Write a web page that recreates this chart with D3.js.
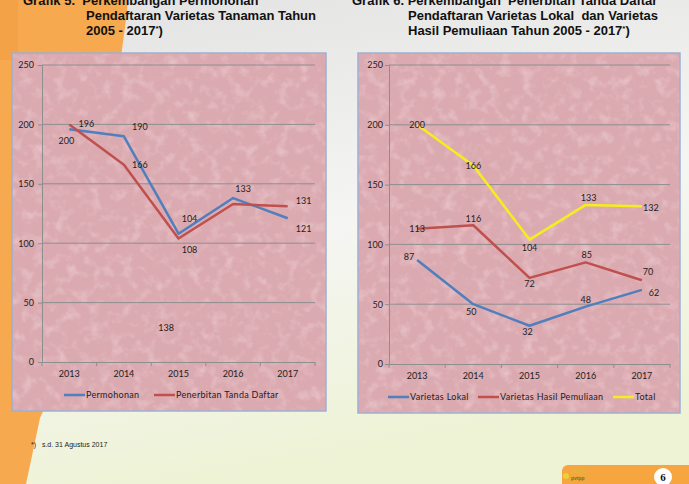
<!DOCTYPE html>
<html><head><meta charset="utf-8">
<script src="https://cdn.jsdelivr.net/npm/d3@7"></script>
<style>html,body{margin:0;padding:0;overflow:hidden;}svg{display:block;}</style>
</head><body>
<svg id="page" width="689" height="484"></svg>
<script>
// ---------------- DATA ----------------
const years = ["2013", "2014", "2015", "2016", "2017"];
const yTicks = [0, 50, 100, 150, 200, 250];

// Grafik 5
const permohonan = [196, 190, 108, 138, 121];
const penerbitanTandaDaftar = [200, 166, 104, 133, 131];
// labels as printed on the chart (text, series index, point index)
const labels5 = [
  ["196", 0, 0, 17, -5], ["200", 1, 0, -3, 16],
  ["190", 0, 1, 16, -9], ["166", 1, 1, 16, 0],
  ["104", 0, 2, 11, -15], ["108", 1, 2, 11, 11],
  ["133", 0, 3, 10, -9], ["138", 1, 3, -67, 124],
  ["121", 0, 4, 16, 11], ["131", 1, 4, 16, -6]
];

// Grafik 6
const varietasLokal = [87, 50, 32, 48, 62];
const varietasHasilPemuliaan = [113, 116, 72, 85, 70];
const total = [200, 166, 104, 133, 132];
const labels6 = [
  ["87", 0, 0, -8, -3], ["50", 0, 1, -2, 8], ["32", 0, 2, -2, 6], ["48", 0, 3, 0, -7], ["62", 0, 4, 12, 3],
  ["113", 1, 0, 0, 0], ["116", 1, 1, 0, -6], ["72", 1, 2, 0, 6], ["85", 1, 3, 1, -7], ["70", 1, 4, 6, -8],
  ["200", 2, 0, 0, 0], ["166", 2, 1, 0, 0], ["104", 2, 2, 0, 8], ["133", 2, 3, 3, -7], ["132", 2, 4, 9, 2]
];

// ---------------- PAGE ----------------
const svg = d3.select("#page");
const defs = svg.append("defs");

const bg = defs.append("linearGradient").attr("id", "bg").attr("x1", 0).attr("y1", 0).attr("x2", 0.25).attr("y2", 1);
bg.append("stop").attr("offset", 0).attr("stop-color", "#e2e2e2");
bg.append("stop").attr("offset", 0.55).attr("stop-color", "#f5f5f3");
bg.append("stop").attr("offset", 1).attr("stop-color", "#eef3d6");

const tex = defs.append("filter").attr("id", "tex").attr("x", 0).attr("y", 0).attr("width", 1).attr("height", 1);
tex.append("feTurbulence").attr("type", "fractalNoise").attr("baseFrequency", 0.09).attr("numOctaves", 3).attr("seed", 7);
tex.append("feColorMatrix").attr("type", "matrix")
  .attr("values", "0 0 0 0 1  0 0 0 0 0.93  0 0 0 0 0.94  1.6 0 0 0 -0.75");

svg.append("rect").attr("width", 689).attr("height", 484).attr("fill", "url(#bg)");
svg.append("path").attr("d", "M0,0 H128 C120,90 70,360 40,418 L26,484 H0 Z").attr("fill", "#f6a94f");
svg.append("rect").attr("x", 0).attr("y", 0).attr("width", 18).attr("height", 60).attr("fill", "#f19f42").attr("opacity", 0.6);

// titles
function title(x1, x2, lines) {
  const t = svg.append("text").attr("font-family", "Liberation Sans, Arial, sans-serif")
    .attr("font-weight", "bold").attr("font-size", 13).attr("fill", "#111")
    .style("white-space", "pre");
  lines.forEach((l, i) => {
    const ts = t.append("tspan").attr("x", i === 0 ? x1 : x2).attr("y", 5 + i * 15);
    if (l.endsWith("*)")) {
      ts.text(l.slice(0, -2));
      t.append("tspan").attr("dy", -4).attr("font-size", 8).text("*");
      t.append("tspan").attr("dy", 4).text(")");
    } else ts.text(l);
  });
}
title(23, 86, ["Grafik 5.  Perkembangan Permohonan", "Pendaftaran Varietas Tanaman Tahun", "2005 - 2017*)"]);
title(352, 408, ["Grafik 6. Perkembangan  Penerbitan Tanda Daftar", "Pendaftaran Varietas Lokal  dan Varietas", "Hasil Pemuliaan Tahun 2005 - 2017*)"]);

// ---------------- CHART ----------------
const FONT = "Lato, 'Open Sans', sans-serif";
function drawChart(o) {
  const g = svg.append("g");
  g.append("rect").attr("x", o.box[0]).attr("y", o.box[1]).attr("width", o.box[2] - o.box[0]).attr("height", o.box[3] - o.box[1])
    .attr("fill", "#dba9b0");
  g.append("rect").attr("x", o.box[0]).attr("y", o.box[1]).attr("width", o.box[2] - o.box[0]).attr("height", o.box[3] - o.box[1])
    .attr("filter", "url(#tex)").attr("opacity", 0.45);
  g.append("rect").attr("x", o.box[0]).attr("y", o.box[1]).attr("width", o.box[2] - o.box[0]).attr("height", o.box[3] - o.box[1])
    .attr("fill", "none").attr("stroke", "#9fb0d2").attr("stroke-width", 1.5);

  const x = d3.scaleBand().domain(years).range([o.px0, o.px1]);
  const y = d3.scaleLinear().domain([0, 250]).range([o.py0, o.py1]);
  const cx = d => x(d) + x.bandwidth() / 2;

  // gridlines
  g.append("g").selectAll("line").data(yTicks.filter(v => v > 0)).join("line")
    .attr("x1", o.px0).attr("x2", o.px1).attr("y1", d => y(d)).attr("y2", d => y(d))
    .attr("stroke", "#8e8e8e").attr("stroke-width", 1);

  // y axis
  const ya = g.append("g").attr("transform", `translate(${o.px0},0)`)
    .call(d3.axisLeft(y).tickValues(yTicks).tickSize(4).tickPadding(o.ypad));
  ya.select(".domain").attr("stroke", "#8e8e8e");
  ya.selectAll(".tick line").attr("stroke", "#8e8e8e");
  ya.selectAll("text").attr("font-family", FONT).attr("font-size", 9).attr("fill", "#222");

  // x axis
  const xa = g.append("g").attr("transform", `translate(0,${o.py0})`)
    .call(d3.axisBottom(x).tickSize(0).tickPadding(9));
  xa.select(".domain").attr("stroke", "#8e8e8e");
  xa.selectAll("text").attr("font-family", FONT).attr("font-size", 9).attr("fill", "#222");
  g.append("g").selectAll("line").data(years.map(d => x(d)).concat([o.px1])).join("line")
    .attr("x1", d => d).attr("x2", d => d).attr("y1", o.py0).attr("y2", o.py0 + 4).attr("stroke", "#8e8e8e");

  // lines
  const line = d3.line().x((d, i) => cx(years[i])).y(d => y(d));
  o.series.forEach(s => {
    g.append("path").datum(s.values).attr("d", line).attr("fill", "none")
      .attr("stroke", s.color).attr("stroke-width", 2.5).attr("stroke-linejoin", "round");
  });

  // labels
  g.append("g").selectAll("text").data(o.labels).join("text")
    .attr("x", d => cx(years[d[2]]) + d[3])
    .attr("y", d => y(o.series[d[1]].values[d[2]]) + d[4])
    .attr("dy", "0.35em").attr("text-anchor", "middle")
    .attr("font-family", FONT).attr("font-size", 9).attr("fill", "#1e1e1e")
    .text(d => d[0]);

  // legend
  const lg = g.append("g");
  o.series.forEach((s, i) => {
    const lx = o.legendX[i];
    lg.append("line").attr("x1", lx).attr("x2", lx + 21).attr("y1", o.legendY).attr("y2", o.legendY)
      .attr("stroke", s.color).attr("stroke-width", 2.5);
    lg.append("text").attr("x", lx + 22).attr("y", o.legendY).attr("dy", "0.35em")
      .attr("font-family", FONT).attr("font-size", 9).attr("letter-spacing", 0.3).attr("fill", "#222").text(s.name);
  });
}

drawChart({
  box: [12, 53, 326, 411], px0: 42, px1: 315, py0: 362, py1: 65, ypad: 4,
  series: [
    { name: "Permohonan", values: permohonan, color: "#4f7fbd" },
    { name: "Penerbitan Tanda Daftar", values: penerbitanTandaDaftar, color: "#c0504d" }
  ],
  labels: labels5, legendX: [64, 154], legendY: 395
});

drawChart({
  box: [358, 53, 680, 413], px0: 389, px1: 670, py0: 364, py1: 65, ypad: 2,
  series: [
    { name: "Varietas Lokal", values: varietasLokal, color: "#4f7fbd" },
    { name: "Varietas Hasil Pemuliaan", values: varietasHasilPemuliaan, color: "#c0504d" },
    { name: "Total", values: total, color: "#f6ee1c" }
  ],
  labels: labels6, legendX: [388, 478, 613], legendY: 397
});

// footnote
svg.append("text").attr("x", 31).attr("y", 447).attr("font-family", "Liberation Sans, Arial, sans-serif")
  .attr("font-size", 7).attr("fill", "#222").style("white-space", "pre").text("*)   s.d. 31 Agustus 2017");

// page badge
svg.append("rect").attr("x", 562).attr("y", 465).attr("width", 140).attr("height", 30).attr("rx", 6).attr("fill", "#f6a53f");
svg.append("circle").attr("cx", 566).attr("cy", 476).attr("r", 3).attr("fill", "#e8d23a");
svg.append("text").attr("x", 571).attr("y", 473).attr("font-family", "Liberation Sans, sans-serif").attr("font-size", 5).attr("fill", "#d9c23a").text("lachyul");
svg.append("text").attr("x", 571).attr("y", 480).attr("font-family", "Liberation Sans, sans-serif").attr("font-weight", "bold").attr("font-size", 5).attr("fill", "#5a7a1a").text("pvtpp");
svg.append("circle").attr("cx", 663).attr("cy", 477).attr("r", 9).attr("fill", "#fff");
svg.append("text").attr("x", 663).attr("y", 481).attr("text-anchor", "middle").attr("font-family", "Liberation Serif, serif")
  .attr("font-weight", "bold").attr("font-size", 11).attr("fill", "#111").text("6");
</script>
</body></html>
